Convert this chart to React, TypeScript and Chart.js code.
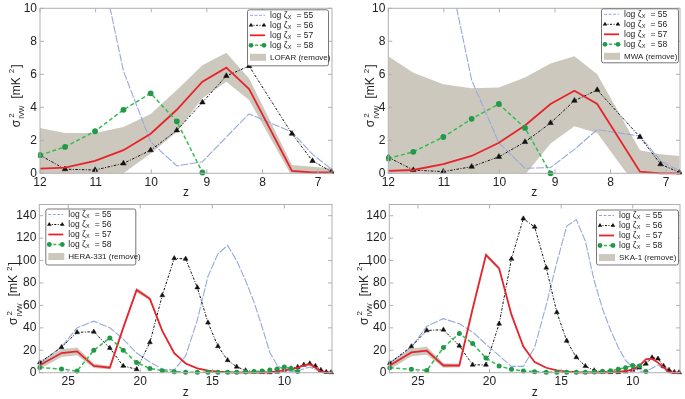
import React, { useEffect, useRef } from "react";
import { Chart, registerables } from "chart.js";

Chart.register(...registerables);

// ---------------- data ----------------
const zTop = [12.0, 11.55, 11.01, 10.5, 10.01, 9.54, 9.08, 8.65, 8.24, 7.47, 7.1, 6.76];
const zBottom = [
  26.97, 25.46, 24.38, 23.22, 22.11, 21.18, 20.25, 19.33, 18.47, 17.64, 16.85, 16.04, 15.3, 14.61, 13.94,
  13.31, 12.69, 12.11, 11.55, 11.01, 10.5, 10.01, 9.54, 9.08, 8.65, 8.24, 7.85, 7.47, 7.1, 6.76,
];

const lofar55 = [28, 22, 14.3, 6.2, 1.9, 0.45, 0.7, 2.2, 3.6, 2.5, 1.15, 0.25];
const lofar56 = [1.1, 0.25, 0.2, 0.6, 1.4, 2.6, 4.3, 5.9, 6.5, 2.4, 0.75, 0.1];
const lofar57 = [0.28, 0.35, 0.75, 1.4, 2.4, 3.85, 5.55, 6.4, 5.1, 0.15, 0.05, 0.05];
const lofar58 = [1.1, 1.6, 2.55, 3.85, 4.85, 3.15, 0.05, null, null, null, null, null];
const lofarUpper = [2.75, 2.45, 2.45, 2.8, 3.6, 5.05, 6.55, 7.3, 5.75, 0.5, 0.4, 0.3];
const lofarLower = [-1.5, -1.2, -0.9, 0.0, 1.2, 2.5, 4.55, 5.55, 4.45, -0.2, -0.2, -0.2];

const mwa55 = [28, 22, 13.9, 5.65, 1.85, 0.3, 0.35, 1.45, 2.65, 2.25, 0.75, 0.15];
const mwa56 = [0.97, 0.2, 0.1, 0.4, 1.0, 1.9, 3.05, 4.4, 5.05, 2.2, 0.55, 0.05];
const mwa57 = [0.15, 0.2, 0.55, 1.05, 1.85, 2.9, 4.2, 5.0, 4.2, 0.1, 0.0, 0.0];
const mwa58 = [0.9, 1.3, 2.2, 3.3, 4.2, 2.75, 0.0, null, null, null, null, null];
const mwaUpper = [7.1, 6.1, 5.4, 5.15, 5.2, 5.8, 6.65, 7.1, 6.0, 1.4, 1.15, 1.05];
const mwaLower = [-3, -3, -3, -2.5, -1.5, -0.1, 1.8, 2.85, 2.45, -1.1, -1.5, -1.5];

const hera55 = [8, 23, 40, 46, 40, 30, 17.5, 9.6, 3, 2.5, 15, 47, 86, 106, 113.5, 100, 82, 63, 41, 18, 6.5, 2.5, 1, 1.5, 3.5, 5, 3, 0.8, 0.2, 0.1];
const hera56 = [9, 22.7, 36, 36.5, 22, 6, 3, 27, 69, 102, 101.5, 76, 44.6, 23.6, 11.1, 5.3, 2, 0.8, 0.4, 0.3, 0.8, 2.5, 3.8, 5, 7, 8.2, 6, 2.4, 0.6, 0.3];
const hera57 = [6.7, 17.5, 19, 6.1, 4.4, 40, 73.8, 65.9, 37.3, 17.5, 8.2, 3.8, 1.8, 0.9, 0.4, 0.2, 0.1, 0.1, 0.2, 0.4, 1.2, 2.2, 3.2, 4.6, 6.5, 7.6, 4.5, 0.8, 0.3, 0.3];
const hera58 = [4.7, 3.2, 1.5, 20, 31, 20, 9, 3.8, 1.8, 0.9, 0.5, 0.3, 0.3, 0.3, 0.3, 0.4, 0.6, 1, 1.5, 2.4, 3.3, 5, 3.8, 1, null, null, null, null, null, null];
const heraUpper = [10.2, 21, 22.5, 8.1, 5.9, 41.5, 75.8, 67.4, 38.3, 18.3, 8.7, 4.1, 2, 1.1, 0.6, 0.4, 0.3, 0.3, 0.4, 0.6, 1.4, 2.5, 3.6, 5.1, 7.1, 8.3, 5, 1.1, 0.5, 0.5];
const heraLower = [3.2, 14, 15.5, 4.1, 2.9, 38.5, 71.8, 64.4, 36.3, 16.7, 7.7, 3.5, 1.6, 0.7, 0.2, 0, 0, 0, 0, 0.2, 1, 1.9, 2.8, 4.1, 5.9, 6.9, 4, 0.5, 0.1, 0.1];

const ska55 = [8.5, 22.5, 41.5, 48.2, 43.6, 36.3, 25.4, 15.2, 5.6, 5.6, 22.5, 60.5, 98.5, 130.7, 136.5, 117.5, 82, 57, 38, 22.5, 11, 5, 1.5, 1, 4, 7, 3.5, 1, 0.3, 0.1];
const ska56 = [8.5, 23.4, 37.7, 38.3, 24, 7, 7, 43.6, 101.5, 137.4, 130, 93.6, 53.8, 28.4, 13.7, 5.8, 2, 0.8, 0.4, 0.4, 1, 2.5, 4.5, 8, 13.5, 12.5, 6, 2.4, 0.5, 0.3];
const ska57 = [6.4, 18.1, 19.6, 6.4, 6.4, 57, 105, 93, 51.8, 23.4, 9.4, 4.4, 2, 0.9, 0.4, 0.2, 0.1, 0.2, 0.4, 0.8, 1.5, 3, 6, 12, 12.5, 9, 5, 0.3, 0.2, 0.2];
const ska58 = [4.5, 3, 2, 22.5, 35, 26, 13, 6, 3, 1.5, 0.9, 0.5, 0.4, 0.3, 0.3, 0.4, 0.6, 1.2, 1.8, 3, 4.5, 6.5, 6, 1, null, null, null, null, null, null];
const skaUpper = [9.9, 21.6, 23.1, 8.4, 7.9, 58.5, 107, 94.5, 52.8, 24.2, 9.9, 4.7, 2.2, 1.1, 0.6, 0.4, 0.3, 0.4, 0.6, 1, 1.8, 3.4, 6.5, 12.6, 13.1, 9.6, 5.5, 0.6, 0.4, 0.4];
const skaLower = [2.9, 14.6, 16.1, 4.4, 4.9, 55.5, 103, 91.5, 50.8, 22.6, 8.9, 4.1, 1.8, 0.7, 0.2, 0, 0, 0, 0.2, 0.6, 1.2, 2.6, 5.5, 11.4, 11.9, 8.4, 4.5, 0, 0, 0];

const topXTicks = [12, 11, 10, 9, 8, 7];
const bottomXTicks = [25, 20, 15, 10];
const topYTicks = [0, 2, 4, 6, 8, 10];
const bottomYTicks = [0, 20, 40, 60, 80, 100, 120, 140];
const zetaLabels = ["55", "56", "57", "58"];

// ---------------- styles ----------------
const FONT = "'Liberation Sans', 'DejaVu Sans', Arial, sans-serif";
const BLUE = "#97a9dc";
const BLACK = "#111111";
const RED = "#e8232b";
const GREEN = "#33bd4f";
const GREEN_MK = "#22994a";
const BAND = "#cdc8bd";

type Legend = { side: "left" | "right"; dx: number; dy: number; w: number; h: number };

type PanelCfg = {
  left: number;
  top: number;
  width: number;
  height: number;
  pad: { left: number; top: number; right: number; bottom: number };
  z: number[];
  s55: (number | null)[];
  s56: (number | null)[];
  s57: (number | null)[];
  s58: (number | null)[];
  hi: number[];
  lo: number[];
  xMin: number;
  xMax: number;
  yMax: number;
  xTicks: number[];
  yTicks: number[];
  inst: string;
  legend: Legend;
  yTitleX: number;
  mk: number;
};

function drawYTitle(ctx: CanvasRenderingContext2D, x: number, y: number) {
  ctx.save();
  ctx.translate(x, y);
  ctx.rotate(-Math.PI / 2);
  ctx.fillStyle = "#222";
  ctx.textBaseline = "alphabetic";
  ctx.textAlign = "left";
  const big = `12px ${FONT}`;
  const sup = `8px ${FONT}`;
  const sub = `7px ${FONT}`;
  ctx.font = big;
  const wS = ctx.measureText("σ").width;
  const wB = ctx.measureText("[mK").width;
  const wE = ctx.measureText("]").width;
  ctx.font = sup;
  const w2 = ctx.measureText("2").width;
  ctx.font = sub;
  const wI = ctx.measureText("IVW").width;
  const g1 = 7;
  const g2 = 4;
  const total = wS + 1 + Math.max(w2, wI) + g1 + wB + g2 + w2 + 1 + wE;
  let cx = -total / 2;
  ctx.font = big;
  ctx.fillText("σ", cx, 0);
  cx += wS + 1;
  ctx.font = sup;
  ctx.fillText("2", cx + 1, -5.5);
  ctx.font = sub;
  ctx.fillText("IVW", cx, 4.5);
  cx += Math.max(w2, wI) + g1;
  ctx.font = big;
  ctx.fillText("[mK", cx, 0);
  cx += wB + g2;
  ctx.font = sup;
  ctx.fillText("2", cx, -5.5);
  cx += w2 + 1;
  ctx.font = big;
  ctx.fillText("]", cx, 0);
  ctx.restore();
}

function tri(ctx: CanvasRenderingContext2D, x: number, y: number, r: number) {
  ctx.beginPath();
  ctx.moveTo(x, y - r);
  ctx.lineTo(x + r * 0.87, y + r * 0.5);
  ctx.lineTo(x - r * 0.87, y + r * 0.5);
  ctx.closePath();
  ctx.fill();
}

function drawLegend(ctx: CanvasRenderingContext2D, a: any, L: Legend, inst: string) {
  const bx = L.side === "right" ? a.right - L.dx - L.w : a.left + L.dx;
  const by = a.top + L.dy;
  ctx.save();
  ctx.fillStyle = "#ffffff";
  ctx.strokeStyle = "#555";
  ctx.lineWidth = 0.8;
  ctx.beginPath();
  (ctx as any).roundRect(bx + 0.5, by + 0.5, L.w, L.h, 2);
  ctx.fill();
  ctx.stroke();
  const rows = [6, 16, 26, 36, 48];
  const s0 = bx + 3;
  const s1 = bx + 18;
  const tx = bx + 23;
  let y = by + rows[0];
  ctx.setLineDash([3, 1.5]);
  ctx.strokeStyle = BLUE;
  ctx.lineWidth = 1;
  ctx.beginPath();
  ctx.moveTo(s0, y);
  ctx.lineTo(s1, y);
  ctx.stroke();
  y = by + rows[1];
  ctx.setLineDash([2, 1.5, 1, 1.5]);
  ctx.strokeStyle = BLACK;
  ctx.beginPath();
  ctx.moveTo(s0, y);
  ctx.lineTo(s1, y);
  ctx.stroke();
  ctx.fillStyle = BLACK;
  tri(ctx, s0 + 1, y, 2.6);
  tri(ctx, s1 - 1, y, 2.6);
  y = by + rows[2];
  ctx.setLineDash([]);
  ctx.strokeStyle = RED;
  ctx.lineWidth = 1.8;
  ctx.beginPath();
  ctx.moveTo(s0, y);
  ctx.lineTo(s1, y);
  ctx.stroke();
  y = by + rows[3];
  ctx.setLineDash([3, 2]);
  ctx.strokeStyle = GREEN;
  ctx.lineWidth = 1.5;
  ctx.beginPath();
  ctx.moveTo(s0, y);
  ctx.lineTo(s1, y);
  ctx.stroke();
  ctx.setLineDash([]);
  ctx.fillStyle = GREEN_MK;
  for (const px of [s0 + 1, s1 - 1]) {
    ctx.beginPath();
    ctx.arc(px, y, 2.4, 0, Math.PI * 2);
    ctx.fill();
  }
  y = by + rows[4];
  ctx.fillStyle = BAND;
  ctx.fillRect(s0, y - 3.5, s1 - s0 + 1, 7);
  ctx.fillStyle = "#222";
  ctx.textBaseline = "middle";
  ctx.textAlign = "left";
  for (let i = 0; i < 4; i++) {
    const ty = by + rows[i];
    ctx.font = `8.5px ${FONT}`;
    ctx.fillText("log ζ", tx, ty);
    let w = ctx.measureText("log ζ").width;
    ctx.font = `5.5px ${FONT}`;
    ctx.fillText("X", tx + w + 0.3, ty + 2);
    w += 0.3 + ctx.measureText("X").width;
    ctx.font = `8.5px ${FONT}`;
    ctx.fillText("= " + zetaLabels[i], tx + w + 5, ty);
  }
  ctx.font = `8px ${FONT}`;
  ctx.fillText(inst, tx, by + rows[4]);
  ctx.restore();
}

function decor(cfg: PanelCfg) {
  return {
    id: "decor",
    afterDraw(chart: any) {
      const ctx: CanvasRenderingContext2D = chart.ctx;
      const a = chart.chartArea;
      const xs = chart.scales.x;
      const ys = chart.scales.y;
      ctx.save();
      ctx.strokeStyle = "#b0b0b0";
      ctx.lineWidth = 1;
      ctx.strokeRect(a.left, a.top, a.right - a.left, a.bottom - a.top);
      ctx.beginPath();
      for (const v of cfg.xTicks) {
        const p = xs.getPixelForValue(v);
        ctx.moveTo(p, a.bottom);
        ctx.lineTo(p, a.bottom - 4);
        ctx.moveTo(p, a.top);
        ctx.lineTo(p, a.top + 4);
      }
      for (const v of cfg.yTicks) {
        const p = ys.getPixelForValue(v);
        ctx.moveTo(a.left, p);
        ctx.lineTo(a.left + 4, p);
        ctx.moveTo(a.right, p);
        ctx.lineTo(a.right - 4, p);
      }
      ctx.stroke();
      ctx.fillStyle = "#222";
      ctx.font = `12px ${FONT}`;
      ctx.textAlign = "center";
      ctx.textBaseline = "middle";
      for (const v of cfg.xTicks) ctx.fillText(String(v), xs.getPixelForValue(v), a.bottom + 9);
      ctx.textAlign = "right";
      for (const v of cfg.yTicks) ctx.fillText(String(v), a.left - 3, ys.getPixelForValue(v));
      ctx.textAlign = "center";
      ctx.fillText("z", (a.left + a.right) / 2, a.bottom + 19.5);
      drawYTitle(ctx, cfg.yTitleX, (a.top + a.bottom) / 2 + 5);
      drawLegend(ctx, a, cfg.legend, cfg.inst);
      ctx.restore();
    },
  };
}

function pts(z: number[], arr: (number | null)[]) {
  const out: { x: number; y: number }[] = [];
  z.forEach((x, i) => {
    const v = arr[i];
    if (v !== null && v !== undefined) out.push({ x, y: v });
  });
  return out;
}

function Panel({ cfg }: { cfg: PanelCfg }) {
  const ref = useRef<HTMLCanvasElement>(null);
  useEffect(() => {
    if (!ref.current) return;
    const clip = { left: 2, top: 0, right: 2, bottom: 4 };
    const chart = new Chart(ref.current, {
      type: "line",
      data: {
        datasets: [
          { data: pts(cfg.z, cfg.lo), borderWidth: 0, pointRadius: 0, fill: false, order: 10 } as any,
          { data: pts(cfg.z, cfg.hi), borderWidth: 0, pointRadius: 0, fill: "-1", backgroundColor: BAND, order: 10 } as any,
          { data: pts(cfg.z, cfg.s55), borderColor: BLUE, borderWidth: 1.1, borderDash: [8, 1.5], pointRadius: 0, fill: false, order: 4, clip },
          {
            data: pts(cfg.z, cfg.s56),
            borderColor: BLACK,
            borderWidth: 1,
            borderDash: [2.5, 1.5, 1, 1.5],
            pointStyle: "triangle",
            pointRadius: cfg.mk,
            pointBackgroundColor: BLACK,
            pointBorderColor: BLACK,
            pointBorderWidth: 0.5,
            fill: false,
            order: 3,
            clip,
          },
          { data: pts(cfg.z, cfg.s57), borderColor: RED, borderWidth: 1.8, pointRadius: 0, fill: false, order: 2, clip },
          {
            data: pts(cfg.z, cfg.s58),
            borderColor: GREEN,
            borderWidth: 1.5,
            borderDash: [4, 2.5],
            pointStyle: "circle",
            pointRadius: cfg.mk - 0.3,
            pointBackgroundColor: GREEN_MK,
            pointBorderColor: GREEN_MK,
            pointBorderWidth: 0,
            fill: false,
            order: 1,
            clip,
          },
        ],
      },
      options: {
        animation: false,
        responsive: false,
        devicePixelRatio: 1,
        layout: { padding: cfg.pad },
        elements: { line: { tension: 0 } },
        scales: {
          x: { type: "linear", display: false, min: cfg.xMin, max: cfg.xMax, reverse: true },
          y: { type: "linear", display: false, min: 0, max: cfg.yMax },
        },
        plugins: { legend: { display: false }, tooltip: { enabled: false } },
      } as any,
      plugins: [decor(cfg)],
    });
    return () => chart.destroy();
  }, [cfg]);
  return (
    <canvas
      ref={ref}
      width={cfg.width}
      height={cfg.height}
      style={{ position: "absolute", left: cfg.left, top: cfg.top, width: cfg.width, height: cfg.height }}
    />
  );
}

const panels: PanelCfg[] = [
  {
    left: 0, top: 0, width: 342, height: 200,
    pad: { left: 40, top: 8.3, right: 10, bottom: 26.7 },
    z: zTop, s55: lofar55, s56: lofar56, s57: lofar57, s58: lofar58, hi: lofarUpper, lo: lofarLower,
    xMin: 6.75, xMax: 12, yMax: 10, xTicks: topXTicks, yTicks: topYTicks, inst: "LOFAR (remove)",
    legend: { side: "right", dx: 4, dy: 1, w: 81, h: 56 }, yTitleX: 19.5, mk: 3.2,
  },
  {
    left: 342, top: 0, width: 343, height: 200,
    pad: { left: 46.3, top: 8.3, right: 5, bottom: 26.7 },
    z: zTop, s55: mwa55, s56: mwa56, s57: mwa57, s58: mwa58, hi: mwaUpper, lo: mwaLower,
    xMin: 6.75, xMax: 12, yMax: 10, xTicks: topXTicks, yTicks: topYTicks, inst: "MWA (remove)",
    legend: { side: "right", dx: 2, dy: 0, w: 77, h: 54 }, yTitleX: 32, mk: 3.2,
  },
  {
    left: 0, top: 200, width: 342, height: 199,
    pad: { left: 39.3, top: 1.3, right: 10, bottom: 26.3 },
    z: zBottom, s55: hera55, s56: hera56, s57: hera57, s58: hera58, hi: heraUpper, lo: heraLower,
    xMin: 6.7, xMax: 27, yMax: 150, xTicks: bottomXTicks, yTicks: bottomYTicks, inst: "HERA-331 (remove)",
    legend: { side: "left", dx: 6, dy: 4, w: 90, h: 56 }, yTitleX: 17, mk: 2.8,
  },
  {
    left: 342, top: 200, width: 343, height: 199,
    pad: { left: 47.3, top: 1.3, right: 5, bottom: 26.3 },
    z: zBottom, s55: ska55, s56: ska56, s57: ska57, s58: ska58, hi: skaUpper, lo: skaLower,
    xMin: 6.7, xMax: 27, yMax: 150, xTicks: bottomXTicks, yTicks: bottomYTicks, inst: "SKA-1 (remove)",
    legend: { side: "right", dx: 2, dy: 5, w: 82, h: 55 }, yTitleX: 25.5, mk: 2.8,
  },
];

export default function App() {
  return (
    <div style={{ position: "absolute", left: 0, top: 0, width: 685, height: 399, background: "#ffffff" }}>
      {panels.map((p, i) => (
        <Panel key={i} cfg={p} />
      ))}
    </div>
  );
}
